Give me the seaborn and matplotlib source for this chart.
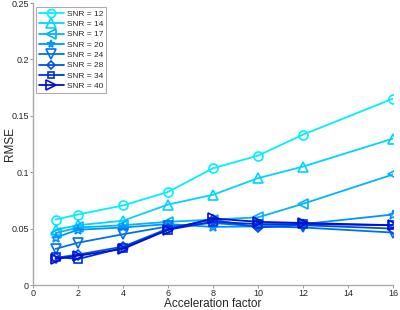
import matplotlib
matplotlib.use("Agg")
import matplotlib.pyplot as plt
import seaborn as sns
import numpy as np
import pandas as pd

accel = [1, 2, 4, 6, 8, 10, 12, 16]
snr_labels = ["SNR = 12", "SNR = 14", "SNR = 17", "SNR = 20",
              "SNR = 24", "SNR = 28", "SNR = 34", "SNR = 40"]
snr12 = [0.058, 0.0625, 0.0705, 0.0825, 0.1035, 0.1147, 0.1333, 0.1652]
snr14 = [0.049, 0.053, 0.057, 0.0713, 0.080, 0.0947, 0.105, 0.1298]
snr17 = [0.046, 0.051, 0.053, 0.056, 0.058, 0.060, 0.072, 0.098]
snr20 = [0.042, 0.049, 0.051, 0.054, 0.0515, 0.052, 0.054, 0.0625]
snr24 = [0.032, 0.0375, 0.045, 0.052, 0.055, 0.052, 0.051, 0.0465]
snr28 = [0.024, 0.027, 0.034, 0.050, 0.058, 0.051, 0.053, 0.050]
snr34 = [0.025, 0.023, 0.033, 0.049, 0.056, 0.054, 0.054, 0.053]
snr40 = [0.023, 0.026, 0.032, 0.049, 0.059, 0.056, 0.055, 0.053]
series = [snr12, snr14, snr17, snr20, snr24, snr28, snr34, snr40]

colors = ["#00F0FF", "#00D4FF", "#00B4FF", "#0094FF",
          "#0070F0", "#0050E8", "#0030DC", "#0010D0"]
markers = ["o", "^", "<", "*", "v", "D", "s", ">"]
msizes = [6.5, 7.5, 7.5, 6.5, 7.5, 5, 5.5, 7.5]

sns.set_style("white")
plt.rcParams["font.family"] = ["Liberation Sans", "DejaVu Sans"]

fig = plt.figure(figsize=(4.0, 3.1), dpi=100)
ax = fig.add_axes([0.0825, 0.0806, 0.9, 0.9097])

for lab, vals, c, m, ms in zip(snr_labels, series, colors, markers, msizes):
    df = pd.DataFrame({"x": accel, "y": vals})
    sns.lineplot(data=df, x="x", y="y", ax=ax, color=c, marker=m,
                 markersize=ms, markerfacecolor="none", markeredgecolor=c,
                 markeredgewidth=1.2, linewidth=1.3, label=lab)

ax.set_xlim(0, 16)
ax.set_ylim(0, 0.25)
ax.set_xticks([0, 2, 4, 6, 8, 10, 12, 14, 16])
ax.set_yticks([0, 0.05, 0.1, 0.15, 0.2, 0.25])
ax.set_yticklabels(["0", "0.05", "0.1", "0.15", "0.2", "0.25"])
ax.set_xlabel("Acceleration factor", fontsize=8.5)
ax.set_ylabel("RMSE", fontsize=8.5)
ax.xaxis.set_label_coords(0.5, -0.045)
ax.yaxis.set_label_coords(-0.048, 0.5)
ax.tick_params(axis="both", labelsize=6.5, length=2, width=0.6,
               color="#888888", direction="out", pad=1.0, left=True, bottom=True)
for s in ["top", "right"]:
    ax.spines[s].set_visible(False)
for s in ["left", "bottom"]:
    ax.spines[s].set_color("#aaaaaa")
    ax.spines[s].set_linewidth(1.0)

leg = ax.legend(loc="upper left", bbox_to_anchor=(0.005, 0.99), fontsize=6,
                frameon=True, fancybox=False, handlelength=3.0,
                labelspacing=0.3, borderpad=0.3, handletextpad=0.4,
                borderaxespad=0.2, markerscale=0.9)
leg.get_frame().set_edgecolor("#999999")
leg.get_frame().set_linewidth(0.8)

fig.savefig("out.png", dpi=100)
